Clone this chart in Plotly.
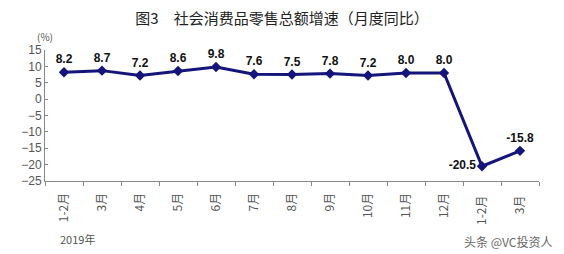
import plotly.graph_objects as go

categories = ["1-2月", "3月", "4月", "5月", "6月", "7月", "8月", "9月", "10月", "11月", "12月", "1-2月 ", "3月 "]
values = [8.2, 8.7, 7.2, 8.6, 9.8, 7.6, 7.5, 7.8, 7.2, 8.0, 8.0, -20.5, -15.8]
label_pos = ["top center"] * 11 + ["middle left", "top center"]
y_ticks = [15, 10, 5, 0, -5, -10, -15, -20, -25]

fig = go.Figure()
fig.add_trace(go.Scatter(
    x=categories, y=values, mode="lines+markers+text",
    line=dict(color="#14147a", width=3),
    marker=dict(symbol="diamond", size=8, color="#14147a"),
    text=[f"<b>{v:.1f}</b>" for v in values],
    textposition=label_pos,
    textfont=dict(family="Liberation Sans, Arial", size=12, color="#111111"),
    cliponaxis=False,
))

fig.update_layout(
    width=564, height=254,
    margin=dict(l=45, r=25, t=50, b=73),
    paper_bgcolor="white", plot_bgcolor="white",
    showlegend=False,
    title=dict(text="图3　社会消费品零售总额增速（月度同比）",
               x=0.5, xanchor="center", y=0.925, yanchor="middle",
               font=dict(family="Noto Sans CJK SC", size=15, color="#222222")),
    font=dict(family="Noto Sans CJK SC", size=11, color="#444444"),
)
fig.update_xaxes(
    type="category", range=[-0.5, 12.5], tickson="boundaries",
    ticks="outside", ticklen=4, tickcolor="#888888",
    showline=True, linecolor="#888888", linewidth=1,
    tickangle=-90, showgrid=False, ticklabelstandoff=6,
    tickfont=dict(family="Noto Sans CJK SC", size=12, color="#555555"),
)
fig.update_yaxes(
    range=[-25, 15], tickvals=y_ticks, ticks="inside", ticklen=3, tickcolor="#888888",
    showline=True, linecolor="#888888", linewidth=1, showgrid=False, zeroline=False,
    tickfont=dict(family="Liberation Sans, Arial", size=12, color="#555555"),
)
fig.add_annotation(text="(%)", xref="paper", yref="paper", x=0.0, y=1.0, yshift=4,
                   showarrow=False, xanchor="center", yanchor="bottom",
                   font=dict(family="Noto Sans CJK SC", size=10, color="#555555"))
fig.add_annotation(text="2019年", xref="paper", yref="paper", x=0.027, y=0, yshift=-58,
                   showarrow=False, xanchor="left", yanchor="middle",
                   font=dict(family="Noto Sans CJK SC", size=11, color="#555555"))
fig.add_annotation(text="头条 @VC投资人", xref="paper", yref="paper", x=1.03, y=0, yshift=-60,
                   showarrow=False, xanchor="right", yanchor="middle",
                   font=dict(family="Noto Sans CJK SC", size=12, color="#666666"))

fig.write_html("out.html")
